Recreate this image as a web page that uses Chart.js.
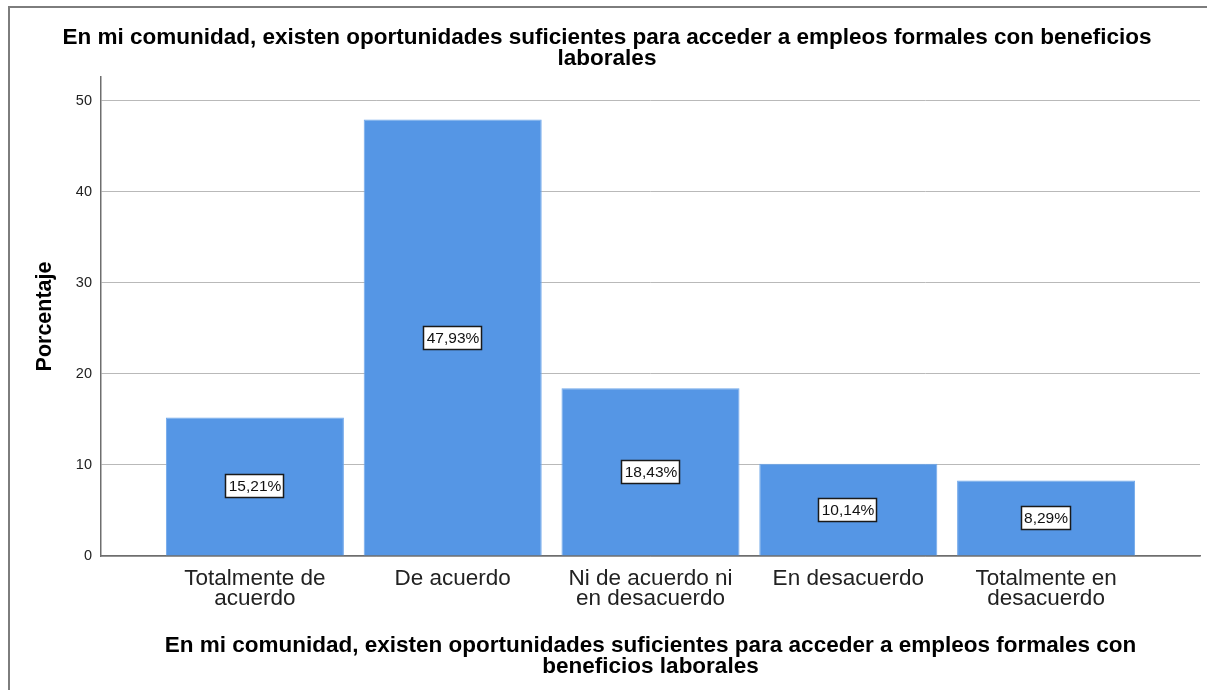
<!DOCTYPE html>
<html>
<head>
<meta charset="utf-8">
<script src="https://cdn.jsdelivr.net/npm/chart.js@4/dist/chart.umd.min.js"></script>
<style>
    html, body { margin: 0; padding: 0; background: #ffffff; }
    #chart { display: block; }
</style>
</head>
<body>
<canvas id="chart" width="1207" height="690"></canvas>
<script>
    // values (percent)
    const categories = [
        ['Totalmente de', 'acuerdo'],
        ['De acuerdo'],
        ['Ni de acuerdo ni', 'en desacuerdo'],
        ['En desacuerdo'],
        ['Totalmente en', 'desacuerdo']
    ];
    const percentages = [15.21, 47.93, 18.43, 10.14, 8.29];
    const yTicks = [0, 10, 20, 30, 40, 50];

    const chartTitle = [
        'En mi comunidad, existen oportunidades suficientes para acceder a empleos formales con beneficios',
        'laborales'
    ];
    const xTitle = [
        'En mi comunidad, existen oportunidades suficientes para acceder a empleos formales con',
        'beneficios laborales'
    ];
    const yTitle = 'Porcentaje';

    const fontFamily = "'Liberation Sans', Arial, sans-serif";
    const barColor = '#5596e5';

    const framePlugin = {
        id: 'frame',
        beforeDraw(chart) {
            const ctx = chart.ctx;
            ctx.save();
            ctx.strokeStyle = '#7d7d7d';
            ctx.lineWidth = 2;
            ctx.strokeRect(9, 7, 1300, 800);
            ctx.restore();
        }
    };

    const valueLabelPlugin = {
        id: 'valueLabels',
        afterDatasetsDraw(chart) {
            const ctx = chart.ctx;
            const meta = chart.getDatasetMeta(0);
            ctx.save();
            ctx.font = '15.5px ' + fontFamily;
            ctx.textAlign = 'center';
            ctx.textBaseline = 'middle';
            meta.data.forEach((bar, i) => {
                const text = percentages[i].toFixed(2).replace('.', ',') + '%';
                const w = Math.round(ctx.measureText(text).width) + 6;
                const h = 24;
                const cx = Math.round(bar.x);
                const cy = Math.round((bar.y + bar.base) / 2);
                const left = cx - Math.round(w / 2);
                const top = cy - Math.round(h / 2);
                ctx.fillStyle = '#ffffff';
                ctx.fillRect(left, top, w, h);
                ctx.strokeStyle = '#1a1a1a';
                ctx.lineWidth = 1.5;
                ctx.strokeRect(left + 0.5, top + 0.5, w - 1, h - 1);
                ctx.fillStyle = '#111111';
                ctx.fillText(text, cx, cy + 1);
            });
            ctx.restore();
        }
    };

    new Chart(document.getElementById('chart').getContext('2d'), {
        type: 'bar',
        data: {
            datasets: [{
                label: yTitle,
                data: percentages.map((v, i) => ({ x: i, y: v })),
                backgroundColor: barColor,
                borderColor: '#6fa7ea',
                borderWidth: 1,
                categoryPercentage: 1,
                barPercentage: 0.9
            }]
        },
        options: {
            responsive: false,
            animation: false,
            devicePixelRatio: 1,
            layout: {
                padding: { left: 14, right: 7, top: 0, bottom: 0 }
            },
            plugins: {
                legend: { display: false },
                tooltip: { enabled: false },
                title: {
                    display: true,
                    text: chartTitle,
                    color: '#000000',
                    font: { family: fontFamily, size: 22.5, weight: 'bold', lineHeight: 0.933 },
                    padding: { top: 27, bottom: 8 }
                }
            },
            scales: {
                x: {
                    type: 'linear',
                    min: -0.778,
                    max: 4.778,
                    offset: false,
                    grid: { display: false, offset: false },
                    border: { display: true, color: '#6e6e6e', width: 1.5 },
                    afterBuildTicks(scale) {
                        scale.ticks = categories.map((_, i) => ({ value: i }));
                    },
                    afterFit(scale) {
                        scale.height = 134;
                    },
                    ticks: {
                        autoSkip: false,
                        maxRotation: 0,
                        minRotation: 0,
                        padding: 4,
                        color: '#222222',
                        font: { family: fontFamily, size: 22.5, lineHeight: 0.92 },
                        callback: (value) => categories[value] || ''
                    },
                    title: {
                        display: true,
                        text: xTitle,
                        color: '#000000',
                        font: { family: fontFamily, size: 22.5, weight: 'bold', lineHeight: 0.933 },
                        padding: { top: 0, bottom: 13 }
                    }
                },
                y: {
                    min: 0,
                    max: 52.6,
                    afterBuildTicks(scale) {
                        scale.ticks = yTicks.map((v) => ({ value: v }));
                    },
                    afterFit(scale) {
                        scale.width = 87;
                    },
                    grid: { color: '#b9b9b9', lineWidth: 1, drawTicks: false },
                    border: { display: true, color: '#6e6e6e', width: 1.5 },
                    ticks: {
                        padding: 9,
                        color: '#222222',
                        font: { family: fontFamily, size: 14.5 }
                    },
                    title: {
                        display: true,
                        text: yTitle,
                        color: '#000000',
                        font: { family: fontFamily, size: 21.5, weight: 'bold', lineHeight: 1.2 },
                        padding: { top: 18, bottom: 0 }
                    }
                }
            }
        },
        plugins: [framePlugin, valueLabelPlugin]
    });
</script>
</body>
</html>
